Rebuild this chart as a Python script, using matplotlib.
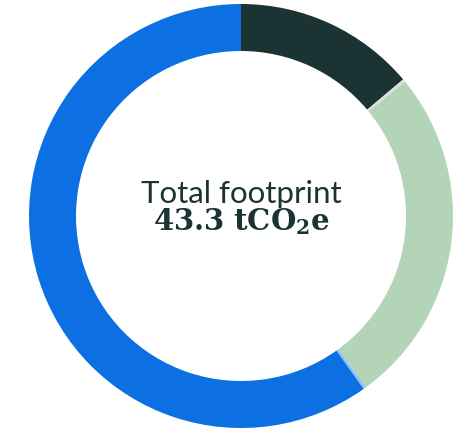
import numpy as np
import matplotlib
matplotlib.use("Agg")
import matplotlib.pyplot as plt

# --- Données ---
labels = ["Catégorie A", "Catégorie B", "Catégorie C", "Catégorie D", "Catégorie E"]
values = [6.0, 0.1, 11.2, 0.1, 25.9]
colors = ["#1c3334", "#dcdcdc", "#b3d4b6", "#8ec3f0", "#0c70e2"]
total_label = "Total footprint"
total_value = "43.3"

plt.rcParams["mathtext.fontset"] = "custom"
plt.rcParams["mathtext.bf"] = "DejaVu Serif:bold"
plt.rcParams["mathtext.rm"] = "DejaVu Serif"

H = 433
fig = plt.figure(figsize=(4.57, 4.33), dpi=100)
ax = fig.add_axes([0, 0, 1, 1])
ax.set_aspect("equal")
ax.axis("off")

# --- Anneau ---
ax.pie(values, colors=colors, startangle=90, counterclock=False,
       center=(241, H - 216), radius=212,
       wedgeprops=dict(width=47, linewidth=0))
ax.set_xlim(0, 457)
ax.set_ylim(0, H)

# --- Texte central ---
ax.text(241, H - 203, total_label, ha="center", va="baseline",
        fontsize=22.5, color="#1c3334", family="Lato")
ax.text(241, H - 230, r"$\mathbf{%s\ tCO_2e}$" % total_value, ha="center", va="baseline",
        fontsize=21, color="#1c3334")

fig.savefig("out.png", dpi=100)
